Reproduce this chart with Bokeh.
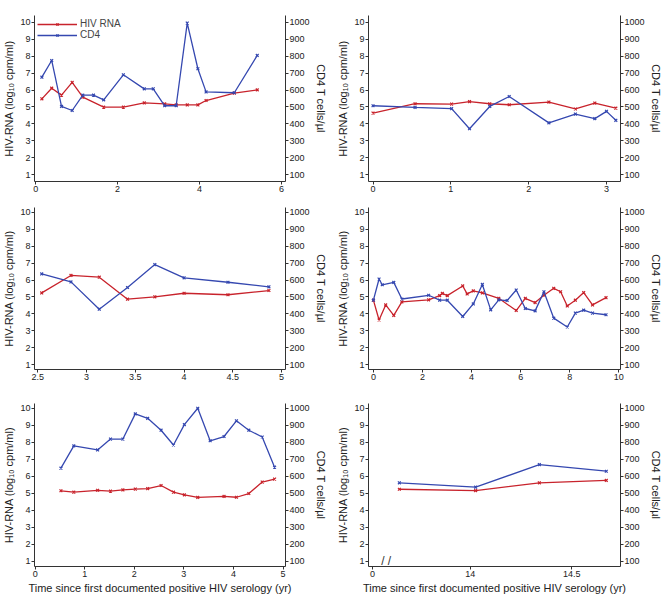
from bokeh.plotting import figure
from bokeh.layouts import column, row
from bokeh.models import (Range1d, LinearAxis, FixedTicker, NumeralTickFormatter,
                          CustomJSTickFormatter, Label)
from bokeh.embed import file_html
from bokeh.resources import INLINE

# ---------------- data ----------------
# Panel 1
p1_rna_t = [0.15, 0.39, 0.63, 0.89, 1.15, 1.66, 2.14, 2.65, 3.15, 3.43, 3.70, 3.96, 4.16, 4.85, 5.41]
p1_rna = [5.48, 6.11, 5.70, 6.45, 5.58, 4.99, 4.99, 5.24, 5.18, 5.12, 5.12, 5.12, 5.38, 5.82, 6.01]
p1_cd4_t = [0.15, 0.39, 0.63, 0.89, 1.15, 1.41, 1.66, 2.14, 2.65, 2.87, 3.15, 3.43, 3.70, 3.96, 4.16, 4.85, 5.41]
p1_cd4 = [676, 775, 503, 479, 570, 570, 542, 690, 607, 607, 507, 507, 996, 726, 589, 584, 805]

# Panel 2
p2_rna_t = [0.0, 0.54, 1.01, 1.24, 1.50, 1.75, 2.26, 2.60, 2.85, 3.12]
p2_rna = [4.64, 5.19, 5.17, 5.32, 5.19, 5.13, 5.29, 4.88, 5.23, 4.93]
p2_cd4_t = [0.0, 0.54, 1.01, 1.24, 1.50, 1.75, 2.26, 2.60, 2.85, 3.00, 3.12]
p2_cd4 = [507, 497, 490, 371, 503, 562, 406, 458, 431, 474, 421]

# Panel 3
p3_t = [2.54, 2.84, 3.13, 3.42, 3.70, 4.00, 4.45, 4.87]
p3_rna = [5.24, 6.27, 6.17, 4.87, 5.01, 5.22, 5.13, 5.38]
p3_cd4 = [636, 589, 428, 556, 691, 613, 587, 560]

# Panel 4
p4_rna_t = [0.0, 0.23, 0.50, 0.83, 1.16, 2.25, 2.70, 2.81, 3.01, 3.64, 3.82, 4.07, 4.44,
            5.11, 5.82, 6.19, 6.59, 6.95, 7.35, 7.63, 7.90, 8.23, 8.57, 8.93, 9.48]
p4_rna = [4.81, 3.64, 4.53, 3.91, 4.71, 4.83, 5.08, 5.21, 5.08, 5.65, 5.18, 5.36, 5.24,
          4.92, 4.20, 4.92, 4.67, 5.10, 5.51, 5.31, 4.47, 4.81, 5.26, 4.53, 4.96]
p4_cd4_t = [0.0, 0.23, 0.36, 0.83, 1.16, 2.25, 2.70, 3.01, 3.64, 4.07, 4.44, 4.78, 5.11,
            5.45, 5.82, 6.19, 6.59, 6.95, 7.35, 7.90, 8.23, 8.57, 8.93, 9.48]
p4_cd4 = [481, 606, 572, 586, 488, 510, 481, 481, 385, 459, 574, 424, 483,
          479, 541, 432, 418, 531, 375, 323, 405, 422, 405, 395]

# Panel 5
p5_rna_t = [0.52, 0.78, 1.26, 1.52, 1.77, 2.02, 2.27, 2.54, 2.79, 3.01, 3.28, 3.81, 4.06, 4.31, 4.58, 4.83]
p5_rna = [5.15, 5.07, 5.18, 5.13, 5.20, 5.25, 5.28, 5.46, 5.07, 4.91, 4.76, 4.82, 4.77, 4.99, 5.66, 5.84]
p5_cd4_t = [0.52, 0.78, 1.26, 1.52, 1.77, 2.02, 2.27, 2.54, 2.79, 3.01, 3.28, 3.53, 3.81, 4.06, 4.31, 4.58, 4.83]
p5_cd4 = [648, 779, 755, 819, 819, 967, 941, 871, 784, 904, 1000, 809, 834, 926, 871, 831, 654]

# Panel 6 (broken time axis)
p6_t = [13.65, 14.026, 14.34, 14.67]
p6_rna = [5.24, 5.16, 5.62, 5.76]
p6_cd4 = [562, 536, 669, 630]

rna_ticks = [1, 2, 3, 4, 5, 6, 7, 8, 9, 10]
cd4_ticks = [100, 200, 300, 400, 500, 600, 700, 800, 900, 1000]

RED = "#c8232c"
BLUE = "#3548b0"
AX = "#333333"
FONT = "Liberation Sans"
XLABEL = "Time since first documented positive HIV serology (yr)"


def style_axis(ax):
    ax.axis_line_color = AX
    ax.axis_line_width = 1
    ax.major_tick_line_color = AX
    ax.major_tick_out = 3
    ax.major_tick_in = 0
    ax.minor_tick_line_color = None
    ax.major_label_text_font = FONT
    ax.major_label_text_font_size = "9px"
    ax.major_label_text_color = "#222222"
    ax.major_label_standoff = 1
    ax.axis_label_text_font = FONT
    ax.axis_label_text_font_size = "11px"
    ax.axis_label_text_font_style = "normal"
    ax.axis_label_text_color = "#222222"
    ax.axis_label_standoff = 2


def panel(width, height, xr, yr, xticks, borders, rna_t, rna, cd4_t, cd4,
          xlabel=None, legend=False):
    bl, br, bt, bb = borders
    p = figure(width=width, height=height,
               x_range=Range1d(*xr), y_range=Range1d(*yr),
               output_backend="svg", toolbar_location=None,
               min_border_left=bl, min_border_right=br,
               min_border_top=bt, min_border_bottom=bb,
               y_axis_label="HIV-RNA (log\u2081\u2080 cpm/ml)")
    p.extra_y_ranges = {"cd4": Range1d(yr[0] * 100, yr[1] * 100)}
    rax = LinearAxis(y_range_name="cd4", axis_label="CD4 T cells/\u00b5l",
                     ticker=FixedTicker(ticks=cd4_ticks))
    p.add_layout(rax, "right")
    p.outline_line_color = None
    p.xgrid.grid_line_color = None
    p.ygrid.grid_line_color = None
    p.background_fill_color = "white"
    p.border_fill_color = "white"
    p.yaxis[0].ticker = FixedTicker(ticks=rna_ticks)
    p.xaxis[0].ticker = FixedTicker(ticks=xticks)
    p.xaxis[0].formatter = NumeralTickFormatter(format="0[.][0]")
    if xlabel:
        p.xaxis[0].axis_label = xlabel
    for ax in p.xaxis + p.yaxis:
        style_axis(ax)

    kw_r = dict(legend_label="HIV RNA") if legend else {}
    kw_b = dict(legend_label="CD4") if legend else {}
    p.line(rna_t, rna, line_color=RED, line_width=1.3, **kw_r)
    p.scatter(rna_t, rna, marker="x", size=4, line_color=RED, line_width=1.2, **kw_r)
    p.line(cd4_t, cd4, line_color=BLUE, line_width=1.3, y_range_name="cd4", **kw_b)
    p.scatter(cd4_t, cd4, marker="x", size=4, line_color=BLUE, line_width=1.2,
              y_range_name="cd4", **kw_b)
    if legend:
        lg = p.legend[0]
        lg.location = "top_left"
        lg.border_line_color = None
        lg.background_fill_alpha = 0
        lg.margin = 3
        lg.padding = 1
        lg.spacing = -3
        lg.label_text_font = FONT
        lg.label_text_font_size = "10px"
        lg.label_text_line_height = 0.8
        lg.label_height = 8
        lg.glyph_height = 8
        lg.glyph_width = 40
        lg.label_standoff = 3
    return p


W1, W2 = 333, 331
H1, H2, H3 = 197, 192, 207
L1 = (32, 48)
L2 = (35, 37)

p1 = panel(W1, H1, (-0.03, 6.1), (0.59, 10.41), [0, 2, 4, 6], (*L1, 15, 16),
           p1_rna_t, p1_rna, p1_cd4_t, p1_cd4, legend=True)
p2 = panel(W2, H1, (-0.058, 3.18), (0.59, 10.41), [0, 1, 2, 3], (*L2, 15, 16),
           p2_rna_t, p2_rna, p2_cd4_t, p2_cd4)
p3 = panel(W1, H2, (2.466, 5.04), (0.72, 10.28), [2.5, 3, 3.5, 4, 4.5, 5], (*L1, 10, 20),
           p3_t, p3_rna, p3_t, p3_cd4)
p4 = panel(W2, H2, (-0.2, 10.07), (0.72, 10.28), [0, 2, 4, 6, 8, 10], (*L2, 10, 20),
           p4_rna_t, p4_rna, p4_cd4_t, p4_cd4)
p5 = panel(W1, H3, (-0.013, 5.05), (0.70, 10.28), [0, 1, 2, 3, 4, 5], (*L1, 14, 30),
           p5_rna_t, p5_rna, p5_cd4_t, p5_cd4, xlabel=XLABEL)
p6 = panel(W2, H3, (13.498, 14.74), (0.70, 10.28), [13.518, 14, 14.5], (*L2, 14, 30),
           p6_t, p6_rna, p6_t, p6_cd4, xlabel=XLABEL)
p6.xaxis[0].formatter = CustomJSTickFormatter(
    code="return tick < 13.9 ? '0' : String(tick);")
p6.add_layout(Label(x=13.585, y=0.70, text="/ /", text_align="center",
                    text_baseline="bottom", text_font=FONT, text_font_size="12px",
                    text_color=AX, y_offset=-1))

layout = column(row(p1, p2), row(p3, p4), row(p5, p6))

open("out.html", "w").write(file_html(layout, INLINE))
